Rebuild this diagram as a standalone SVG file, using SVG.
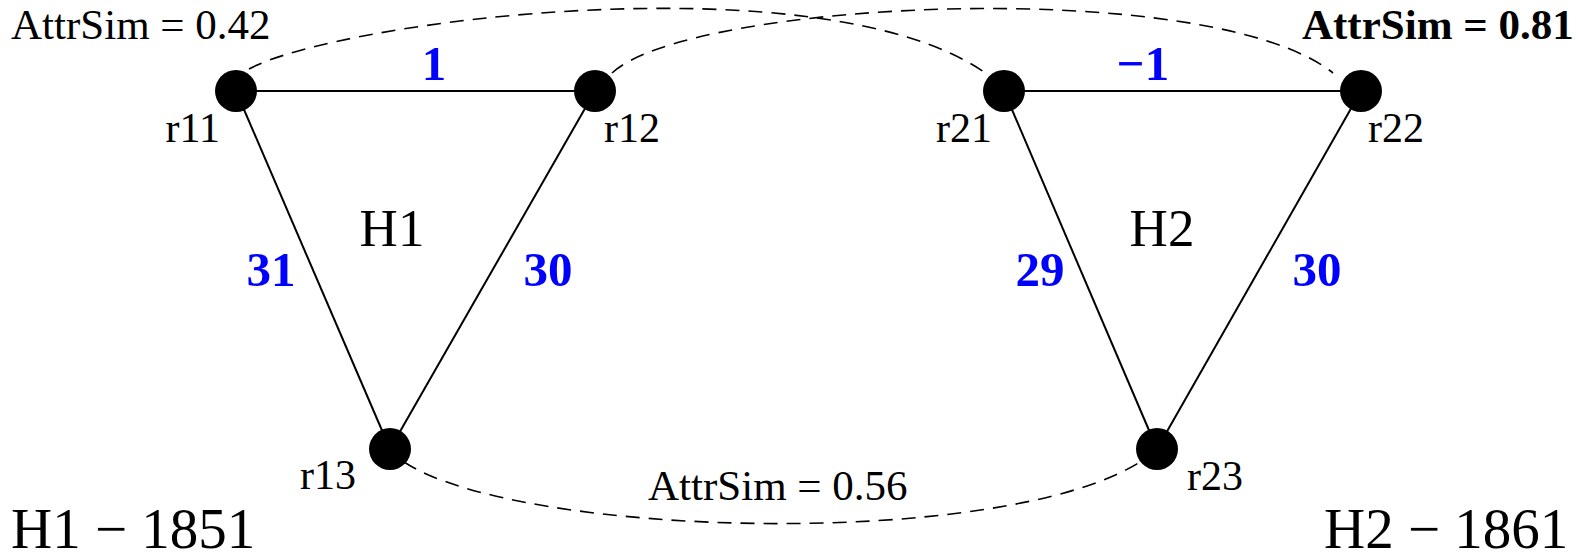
<svg xmlns="http://www.w3.org/2000/svg" width="1584" height="557" viewBox="0 0 1584 557">
<style>
text{font-family:"Liberation Serif","Times New Roman",serif;fill:#000}
.lbl{font-size:42px}
.big{font-size:53px}
.corner{font-size:57px}
.sim{font-size:43px}
.w{font-size:49px;font-weight:bold;fill:#0000ff;text-anchor:middle}
.edge{stroke:#000;stroke-width:2;fill:none}
.dash{stroke:#000;stroke-width:1.6;fill:none;stroke-dasharray:14 9}
.node{fill:#000}
</style>
<rect width="1584" height="557" fill="#fff"/>
<g id="connectors">
<line class="edge" x1="236" y1="91" x2="595" y2="91"/>
<line class="edge" x1="236" y1="91" x2="390" y2="449"/>
<line class="edge" x1="595" y1="91" x2="390" y2="449"/>
<line class="edge" x1="1004" y1="91" x2="1361" y2="91"/>
<line class="edge" x1="1004" y1="91" x2="1157" y2="449"/>
<line class="edge" x1="1361" y1="91" x2="1157" y2="449"/>
<path class="dash" d="M249,69 C340,20 820,-40 984,72"/>
<path class="dash" d="M612,73 C690,0 1210,-25 1333,73"/>
<path class="dash" d="M404,462 C520,538 1000,550 1140,462"/>
<text class="w" x="434" y="80">1</text>
<text class="w" x="1143" y="80">−1</text>
<text class="w" x="271" y="286">31</text>
<text class="w" x="548" y="286">30</text>
<text class="w" x="1040" y="286">29</text>
<text class="w" x="1317" y="286">30</text>
<text class="sim" x="11" y="39">AttrSim = 0.42</text>
<text class="sim" x="1302" y="39" font-weight="bold" font-size="42">AttrSim = 0.81</text>
<text class="sim" x="648" y="500">AttrSim = 0.56</text>
</g>
<g id="r11"><circle class="node" cx="236" cy="91" r="21"/><text class="lbl" x="220" y="142" text-anchor="end">r11</text></g>
<g id="r12"><circle class="node" cx="595" cy="91" r="21"/><text class="lbl" x="604" y="142">r12</text></g>
<g id="r13"><circle class="node" cx="390" cy="449" r="21"/><text class="lbl" x="356" y="489" text-anchor="end">r13</text></g>
<g id="r21"><circle class="node" cx="1004" cy="91" r="21"/><text class="lbl" x="992" y="142" text-anchor="end">r21</text></g>
<g id="r22"><circle class="node" cx="1361" cy="91" r="21"/><text class="lbl" x="1368" y="142">r22</text></g>
<g id="r23"><circle class="node" cx="1157" cy="449" r="21"/><text class="lbl" x="1187" y="490">r23</text></g>
<g id="H1"><text class="big" x="392" y="246" text-anchor="middle">H1</text></g>
<g id="H2"><text class="big" x="1162" y="246" text-anchor="middle">H2</text></g>
<g id="titles">
<text class="corner" x="11" y="548">H1 − 1851</text>
<text class="corner" x="1324" y="548">H2 − 1861</text>
</g>
</svg>
